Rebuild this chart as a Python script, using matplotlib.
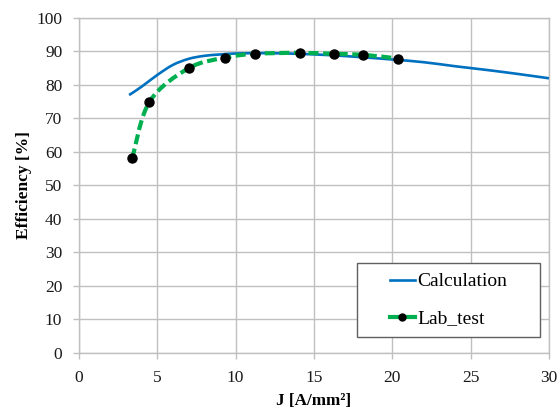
import numpy as np
import matplotlib.pyplot as plt
from matplotlib.path import Path
import matplotlib.patches as patches
from matplotlib.lines import Line2D

# Calculation curve
calc_j = [3.2, 4, 5, 6, 7, 8, 9, 10, 12, 14, 16, 18, 20, 22, 24, 26, 28, 30]
calc_eff = [77.0, 79.5, 83.0, 86.0, 87.8, 88.7, 89.1, 89.4, 89.5, 89.3, 88.9, 88.3, 87.6, 86.8, 85.6, 84.5, 83.3, 82.0]

# Lab test points
lab_j = [3.4, 4.5, 7.0, 9.35, 11.25, 14.1, 16.25, 18.15, 20.35]
lab_eff = [58.1, 75.0, 85.0, 88.2, 89.3, 89.6, 89.3, 89.0, 87.9]

blue = '#0070C0'
green = '#00B050'
grid_c = '#c0c0c0'

plt.rcParams['font.family'] = ['Liberation Serif', 'DejaVu Serif']


def smooth_path(xs, ys):
    # Catmull-Rom style bezier through points (like Excel smoothed line)
    pts = np.column_stack([xs, ys])
    verts = [pts[0]]
    codes = [Path.MOVETO]
    n = len(pts)
    for i in range(n - 1):
        p0 = pts[i - 1] if i > 0 else pts[i]
        p1 = pts[i]
        p2 = pts[i + 1]
        p3 = pts[i + 2] if i + 2 < n else pts[i + 1]
        c1 = p1 + (p2 - p0) / 6.0
        c2 = p2 - (p3 - p1) / 6.0
        verts += [c1, c2, p2]
        codes += [Path.CURVE4] * 3
    return Path(verts, codes)


fig = plt.figure(figsize=(5.59, 4.18), dpi=100, facecolor='white')
ax = fig.add_axes([0.1413, 0.1555, 0.8407, 0.8015])

ax.add_patch(patches.PathPatch(smooth_path(calc_j, calc_eff), fill=False,
                               edgecolor=blue, lw=1.9, zorder=3))
ax.add_patch(patches.PathPatch(smooth_path(lab_j, lab_eff), fill=False,
                               edgecolor=green, lw=3.0, linestyle=(0, (2.4, 1.1)), zorder=4))
ax.plot(lab_j, lab_eff, 'o', color='black', ms=6.5, zorder=5)

ax.set_xlim(0, 30)
ax.set_ylim(0, 100)
ax.set_xticks(range(0, 31, 5))
ax.set_yticks(range(0, 101, 10))
ax.grid(True, color=grid_c, lw=1.0)
ax.set_axisbelow(True)
for s in ax.spines.values():
    s.set_color(grid_c)
    s.set_linewidth(1.0)
ax.tick_params(axis='both', length=4, width=1.0, color=grid_c, labelsize=12.5,
               labelcolor='#1a1a1a')
ax.tick_params(axis='x', pad=8)
ax.tick_params(axis='y', pad=8)

ax.set_xlabel('J [A/mm²]', fontsize=12.3, fontweight='bold', labelpad=5)
ax.set_ylabel('Efficiency [%]', fontsize=12.5, fontweight='bold', labelpad=3)

# legend frame drawn as its own box, entries centred inside
ax.add_patch(patches.Rectangle((0.5915, 0.048), 0.3895, 0.2207, transform=ax.transAxes,
                               facecolor='white', edgecolor='#606060', lw=1.0, zorder=6))
handles = [Line2D([], [], color=blue, lw=1.9),
           Line2D([], [], color=green, lw=3.0, marker='o', mfc='black', mec='black', ms=5)]
leg = ax.legend(handles, ['Calculation', 'Lab_test'], loc='center',
                bbox_to_anchor=(0.786, 0.158), fontsize=14, frameon=False,
                handlelength=1.3, handletextpad=0.1, labelspacing=1.0,
                borderpad=0, borderaxespad=0)
leg.set_zorder(7)

fig.savefig('out.png', dpi=100, facecolor='white')
